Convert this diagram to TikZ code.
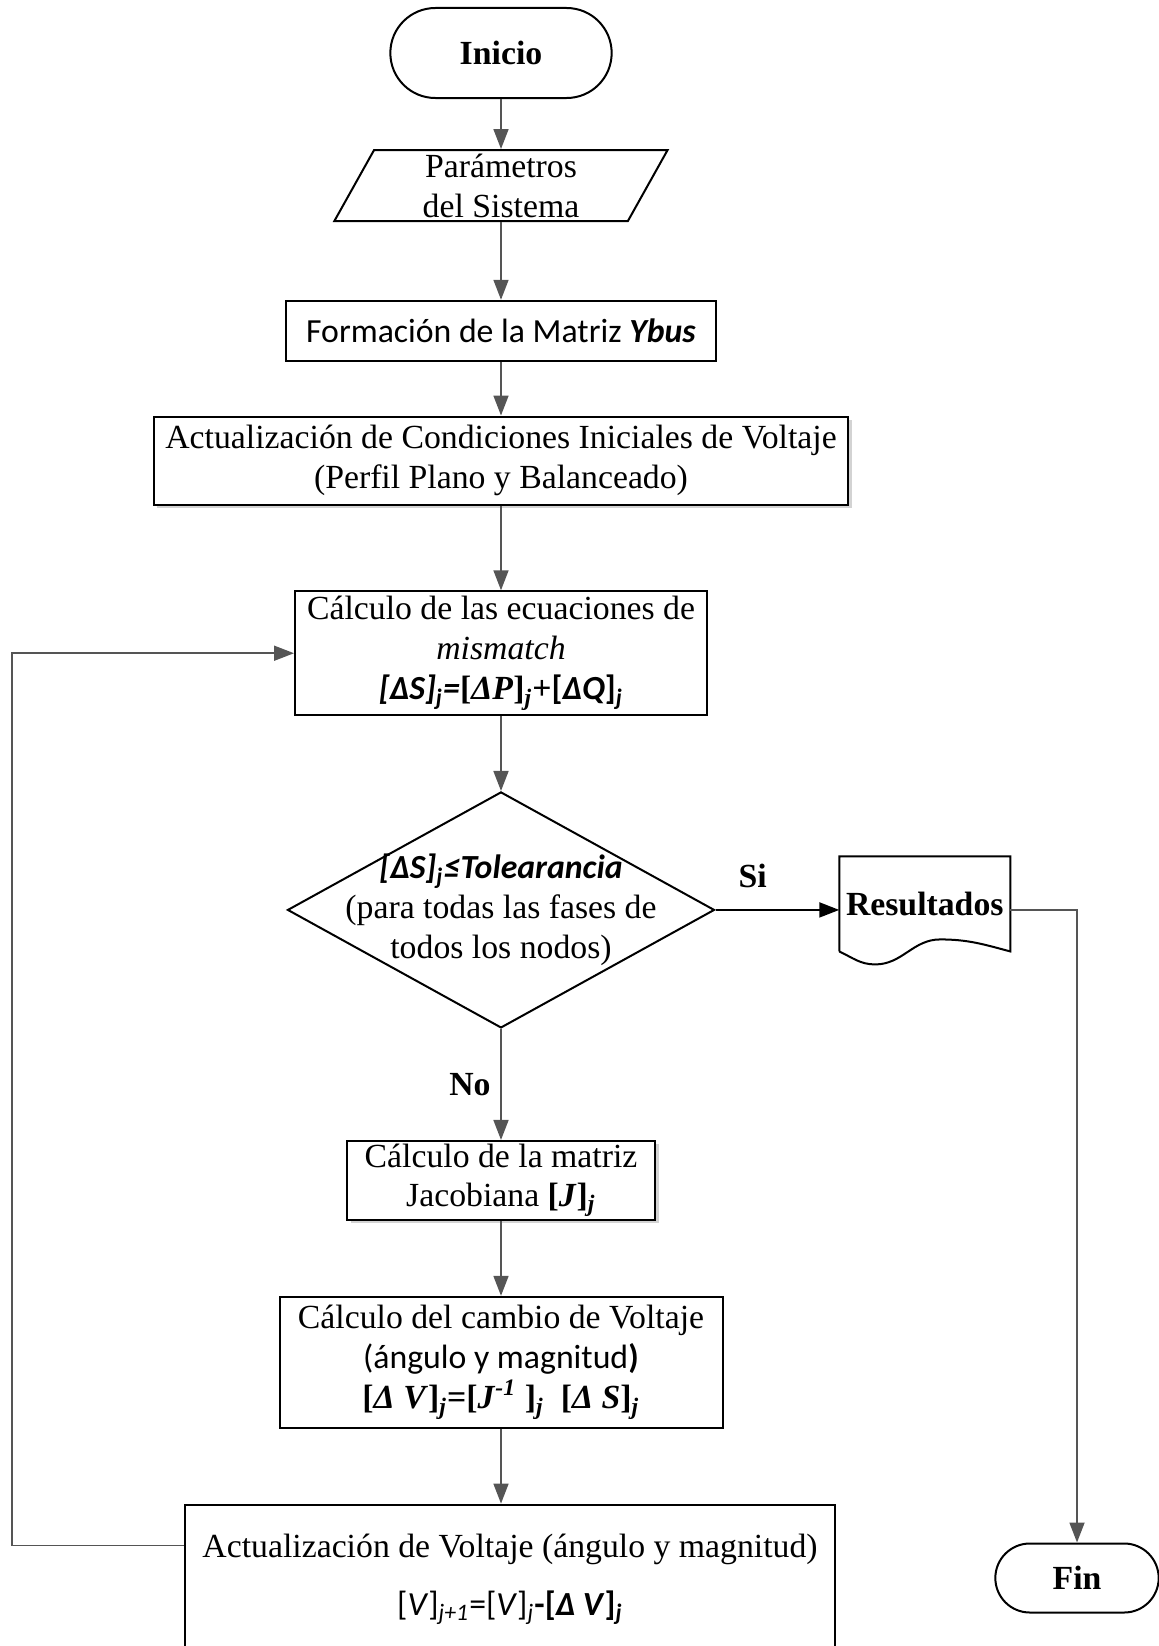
\documentclass[tikz,border=0pt]{standalone}
\usepackage{fontspec}
\setmainfont{Liberation Serif}
\newfontfamily\carlito{Carlito}
\usetikzlibrary{arrows.meta,calc,positioning,shapes.geometric,shapes.misc,shadows}
\definecolor{lngray}{RGB}{85,85,85}
\newcommand{\idx}[1]{\textsubscript{\textit{#1}}}

\begin{document}
\begin{tikzpicture}[x=0.4pt,y=-0.4pt,>={Triangle[length=8pt,width=6pt]},
    font=\fontsize{13.5}{16}\selectfont,every node/.style={align=center},
    proc/.style={draw,line width=0.8pt,fill=white,inner sep=2pt},
    term/.style={draw,line width=0.8pt,rounded rectangle},
    shade/.style={drop shadow={shadow xshift=1.4pt,shadow yshift=-1.4pt,opacity=0.35}},
    flow/.style={->,draw=lngray,line width=0.7pt}]
  \useasboundingbox (0,0) rectangle (1159,1646);
  % main column
  \node[term,minimum width=95.2pt,minimum height=36pt] (inicio) at (501,53) {\textbf{Inicio}};
  \node[draw,line width=0.8pt,trapezium,trapezium left angle=69,trapezium right angle=111,
    trapezium stretches=true,minimum width=134pt,minimum height=28.4pt,inner sep=0pt,
    below=20pt of inicio] (param) {Parámetros\\del Sistema};
  \node[proc,minimum width=172pt,minimum height=24pt,below=31.1pt of param] (ybus)
    {\carlito Formación de la Matriz \textbf{\textit{Ybus}}};
  \node[proc,shade,minimum width=277.6pt,minimum height=35.2pt,below=21.5pt of ybus] (inicond)
    {Actualización de Condiciones Iniciales de Voltaje\\(Perfil Plano y Balanceado)};
  \node[proc,minimum width=164.8pt,minimum height=48.4pt,below=33.9pt of inicond] (mism)
    {Cálculo de las ecuaciones de\\\textit{mismatch}\\
     \textbf{{\carlito\itshape[ΔS]\idx{j}=}[\textit{ΔP}]\idx{j}+{\carlito[\textit{ΔQ}]\idx{j}}}};
  \node[draw,line width=0.8pt,diamond,aspect=1.81,minimum width=170.8pt,minimum height=94.4pt,
    inner sep=0pt,below=29.9pt of mism] (conv) {};
  \node (convtxt) at (conv) {\textbf{\carlito\itshape[ΔS]\idx{j}≤Tolearancia}\\
    (para todas las fases de\\todos los nodos)};
  \node[minimum width=68pt,minimum height=37.6pt,inner sep=0pt,right=49.5pt of conv,yshift=2.4pt] (res)
    {\textbf{Resultados}};
  \node[proc,shade,inner ysep=1.3pt,font=\fontsize{13.5}{15.4}\selectfont,
    minimum width=123.2pt,minimum height=30.7pt,below=44.4pt of conv] (jacob)
    {Cálculo de la matriz\\Jacobiana \textbf{[\textit{J}]\idx{j}}};
  \node[proc,minimum width=177.2pt,minimum height=52.4pt,below=30pt of jacob] (dvolt)
    {Cálculo del cambio de Voltaje\\{\carlito(ángulo y magnitud\textbf{)}}\\
     \textbf{[\textit{Δ V}]\idx{j}=[\textit{J}\textsuperscript{\textit{-1}} ]\idx{j}\ \ [\textit{Δ S}]\idx{j}}};
  \node[proc,minimum width=260pt,minimum height=60pt,below=29.9pt of dvolt,xshift=3.6pt] (vupd)
    {Actualización de Voltaje (ángulo y magnitud)\\[7pt]
     {\carlito[\textit{V}]\idx{j+1}=[\textit{V}]\idx{j}\textbf{-[\textit{Δ V}]\idx{j}}}};
  \node[term,minimum width=72pt,minimum height=27.6pt] (fin) at (1077,1578) {\textbf{Fin}};
  % document shape
  \draw[line width=0.8pt] (res.south west) -- (res.north west) -- (res.north east) -- (res.south east)
    to[out=165,in=0] ($(res.south west)!0.59!(res.south east)+(0,-12)$)
    to[out=180,in=0] ($(res.south west)!0.21!(res.south east)+(0,13)$)
    to[out=180,in=-25] (res.south west);
  % connectors
  \draw[flow] (inicio) -- (param);
  \draw[flow] (param) -- (ybus);
  \draw[flow] (ybus) -- (inicond);
  \draw[flow] (inicond) -- (mism);
  \draw[flow] (mism) -- (conv);
  \draw[->,line width=0.8pt] (conv.east) -- (conv.east -| res.west)
    node[above=5pt,pos=0.3] {\textbf{Si}};
  \draw[flow] (conv) -- (jacob) node[left=0.5pt,midway] {\textbf{No}};
  \draw[flow] (jacob) -- (dvolt);
  \draw[flow] (dvolt) -- (dvolt |- vupd.north);
  \draw[flow] ([yshift=-16.8pt]vupd.north west) -- ++(-172,0) |- (mism.west);
  \draw[flow] (conv.east -| res.east) -| (fin);
\end{tikzpicture}
\end{document}
